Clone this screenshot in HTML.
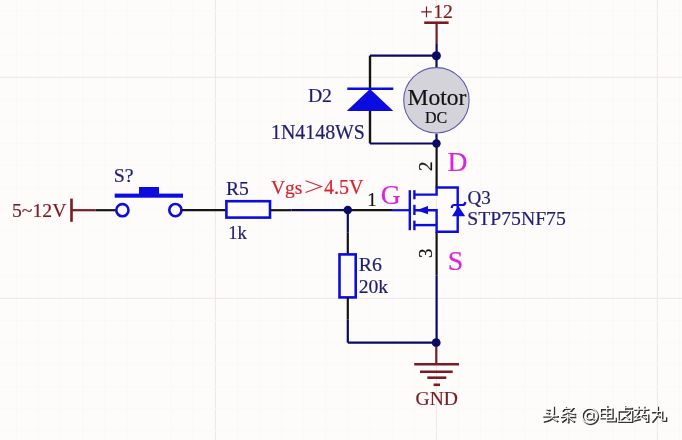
<!DOCTYPE html>
<html><head><meta charset="utf-8"><style>
html,body{margin:0;padding:0;background:#fefcfb;}
svg{display:block;will-change:transform;}
text{stroke-width:0.2px;paint-order:stroke;}
</style></head><body>
<svg width="682" height="440" viewBox="0 0 682 440">
<rect width="682" height="440" fill="#fefcfb"/>
<line x1="16.5" y1="0" x2="16.5" y2="440" stroke="#fbf8f7" stroke-width="1"/>
<line x1="38.6" y1="0" x2="38.6" y2="440" stroke="#fbf8f7" stroke-width="1"/>
<line x1="60.7" y1="0" x2="60.7" y2="440" stroke="#fbf8f7" stroke-width="1"/>
<line x1="82.8" y1="0" x2="82.8" y2="440" stroke="#fbf8f7" stroke-width="1"/>
<line x1="104.9" y1="0" x2="104.9" y2="440" stroke="#fbf8f7" stroke-width="1"/>
<line x1="127.0" y1="0" x2="127.0" y2="440" stroke="#fbf8f7" stroke-width="1"/>
<line x1="149.1" y1="0" x2="149.1" y2="440" stroke="#fbf8f7" stroke-width="1"/>
<line x1="171.2" y1="0" x2="171.2" y2="440" stroke="#fbf8f7" stroke-width="1"/>
<line x1="193.3" y1="0" x2="193.3" y2="440" stroke="#fbf8f7" stroke-width="1"/>
<line x1="215.4" y1="0" x2="215.4" y2="440" stroke="#ede7e6" stroke-width="1"/>
<line x1="237.5" y1="0" x2="237.5" y2="440" stroke="#fbf8f7" stroke-width="1"/>
<line x1="259.6" y1="0" x2="259.6" y2="440" stroke="#fbf8f7" stroke-width="1"/>
<line x1="281.7" y1="0" x2="281.7" y2="440" stroke="#fbf8f7" stroke-width="1"/>
<line x1="303.8" y1="0" x2="303.8" y2="440" stroke="#fbf8f7" stroke-width="1"/>
<line x1="325.9" y1="0" x2="325.9" y2="440" stroke="#fbf8f7" stroke-width="1"/>
<line x1="348.0" y1="0" x2="348.0" y2="440" stroke="#fbf8f7" stroke-width="1"/>
<line x1="370.1" y1="0" x2="370.1" y2="440" stroke="#fbf8f7" stroke-width="1"/>
<line x1="392.2" y1="0" x2="392.2" y2="440" stroke="#fbf8f7" stroke-width="1"/>
<line x1="414.3" y1="0" x2="414.3" y2="440" stroke="#fbf8f7" stroke-width="1"/>
<line x1="436.4" y1="0" x2="436.4" y2="440" stroke="#ede7e6" stroke-width="1"/>
<line x1="458.5" y1="0" x2="458.5" y2="440" stroke="#fbf8f7" stroke-width="1"/>
<line x1="480.6" y1="0" x2="480.6" y2="440" stroke="#fbf8f7" stroke-width="1"/>
<line x1="502.7" y1="0" x2="502.7" y2="440" stroke="#fbf8f7" stroke-width="1"/>
<line x1="524.8" y1="0" x2="524.8" y2="440" stroke="#fbf8f7" stroke-width="1"/>
<line x1="546.9" y1="0" x2="546.9" y2="440" stroke="#fbf8f7" stroke-width="1"/>
<line x1="569.0" y1="0" x2="569.0" y2="440" stroke="#fbf8f7" stroke-width="1"/>
<line x1="591.1" y1="0" x2="591.1" y2="440" stroke="#fbf8f7" stroke-width="1"/>
<line x1="613.2" y1="0" x2="613.2" y2="440" stroke="#fbf8f7" stroke-width="1"/>
<line x1="635.3" y1="0" x2="635.3" y2="440" stroke="#fbf8f7" stroke-width="1"/>
<line x1="657.4" y1="0" x2="657.4" y2="440" stroke="#ede7e6" stroke-width="1"/>
<line x1="679.5" y1="0" x2="679.5" y2="440" stroke="#fbf8f7" stroke-width="1"/>
<line x1="0" y1="11.0" x2="682" y2="11.0" stroke="#fbf8f7" stroke-width="1"/>
<line x1="0" y1="33.1" x2="682" y2="33.1" stroke="#fbf8f7" stroke-width="1"/>
<line x1="0" y1="55.2" x2="682" y2="55.2" stroke="#fbf8f7" stroke-width="1"/>
<line x1="0" y1="77.3" x2="682" y2="77.3" stroke="#ede7e6" stroke-width="1"/>
<line x1="0" y1="99.4" x2="682" y2="99.4" stroke="#fbf8f7" stroke-width="1"/>
<line x1="0" y1="121.5" x2="682" y2="121.5" stroke="#fbf8f7" stroke-width="1"/>
<line x1="0" y1="143.6" x2="682" y2="143.6" stroke="#fbf8f7" stroke-width="1"/>
<line x1="0" y1="165.7" x2="682" y2="165.7" stroke="#fbf8f7" stroke-width="1"/>
<line x1="0" y1="187.8" x2="682" y2="187.8" stroke="#fbf8f7" stroke-width="1"/>
<line x1="0" y1="209.9" x2="682" y2="209.9" stroke="#fbf8f7" stroke-width="1"/>
<line x1="0" y1="232.0" x2="682" y2="232.0" stroke="#fbf8f7" stroke-width="1"/>
<line x1="0" y1="254.1" x2="682" y2="254.1" stroke="#fbf8f7" stroke-width="1"/>
<line x1="0" y1="276.2" x2="682" y2="276.2" stroke="#fbf8f7" stroke-width="1"/>
<line x1="0" y1="298.3" x2="682" y2="298.3" stroke="#ede7e6" stroke-width="1"/>
<line x1="0" y1="320.4" x2="682" y2="320.4" stroke="#fbf8f7" stroke-width="1"/>
<line x1="0" y1="342.5" x2="682" y2="342.5" stroke="#fbf8f7" stroke-width="1"/>
<line x1="0" y1="364.6" x2="682" y2="364.6" stroke="#fbf8f7" stroke-width="1"/>
<line x1="0" y1="386.7" x2="682" y2="386.7" stroke="#fbf8f7" stroke-width="1"/>
<line x1="0" y1="408.8" x2="682" y2="408.8" stroke="#fbf8f7" stroke-width="1"/>
<line x1="0" y1="430.9" x2="682" y2="430.9" stroke="#fbf8f7" stroke-width="1"/>
<line x1="71.5" y1="198.6" x2="71.5" y2="221.8" stroke="#7a1a22" stroke-width="2.6"/>
<line x1="71.5" y1="210.2" x2="95.5" y2="210.2" stroke="#7a1a22" stroke-width="2.2"/>
<line x1="95.5" y1="210.2" x2="116" y2="210.2" stroke="#141414" stroke-width="2.2"/>
<circle cx="122.4" cy="210.2" r="6.1" fill="none" stroke="#0c0ce0" stroke-width="2.6"/>
<circle cx="175.4" cy="210.1" r="6.1" fill="none" stroke="#0c0ce0" stroke-width="2.6"/>
<rect x="114.7" y="193.6" width="68.3" height="4.1" fill="#0c0ce0"/>
<rect x="139" y="187" width="20" height="7" fill="#0c0ce0"/>
<line x1="181.5" y1="210.2" x2="226.4" y2="210.2" stroke="#141414" stroke-width="2.2"/>
<rect x="226.4" y="201.2" width="43.6" height="16.4" fill="none" stroke="#0c0ce0" stroke-width="2.6"/>
<line x1="270" y1="210.2" x2="291.3" y2="210.2" stroke="#141414" stroke-width="2.2"/>
<line x1="291.3" y1="210.2" x2="348" y2="210.2" stroke="#0a0a62" stroke-width="2.2"/>
<line x1="348" y1="210.2" x2="392" y2="210.2" stroke="#141414" stroke-width="2.2"/>
<line x1="392" y1="210.2" x2="409.8" y2="210.2" stroke="#0c0ce0" stroke-width="2.2"/>
<circle cx="347.8" cy="210" r="4.2" fill="#0a0a62"/>
<line x1="347.8" y1="210" x2="347.8" y2="232.7" stroke="#0a0a62" stroke-width="2.2"/>
<line x1="347.8" y1="232.7" x2="347.8" y2="254.4" stroke="#141414" stroke-width="2.2"/>
<rect x="339.5" y="254.4" width="16.2" height="43" fill="none" stroke="#0c0ce0" stroke-width="2.6"/>
<line x1="347.8" y1="297.4" x2="347.8" y2="319.3" stroke="#141414" stroke-width="2.2"/>
<line x1="347.8" y1="319.3" x2="347.8" y2="342.6" stroke="#0a0a62" stroke-width="2.2"/>
<polyline points="347.8,342.6 436.4,342.6" fill="none" stroke="#0a0a62" stroke-width="2.2"/>
<line x1="436.6" y1="231.8" x2="436.6" y2="275.4" stroke="#141414" stroke-width="2.2"/>
<line x1="436.6" y1="275.4" x2="436.6" y2="342.6" stroke="#0a0a62" stroke-width="2.2"/>
<circle cx="436.2" cy="342.7" r="4.4" fill="#0a0a62"/>
<line x1="436.3" y1="346.5" x2="436.3" y2="364.2" stroke="#7a1a22" stroke-width="2.2"/>
<line x1="414.2" y1="364.2" x2="459" y2="364.2" stroke="#7a1a22" stroke-width="2.6"/>
<line x1="420" y1="371.7" x2="452.7" y2="371.7" stroke="#7a1a22" stroke-width="2.6"/>
<line x1="427.3" y1="377.7" x2="446.3" y2="377.7" stroke="#7a1a22" stroke-width="2.6"/>
<line x1="433.6" y1="384.8" x2="440" y2="384.8" stroke="#7a1a22" stroke-width="2.6"/>
<line x1="409.8" y1="190.2" x2="409.8" y2="230.2" stroke="#0c0ce0" stroke-width="2.4"/>
<line x1="414.4" y1="190.2" x2="414.4" y2="199.3" stroke="#0c0ce0" stroke-width="2.4"/>
<line x1="414.4" y1="204.8" x2="414.4" y2="215" stroke="#0c0ce0" stroke-width="2.4"/>
<line x1="414.4" y1="220.6" x2="414.4" y2="230.2" stroke="#0c0ce0" stroke-width="2.4"/>
<polyline points="414.4,194.6 436.6,194.6 436.6,187.5 457.7,187.5 457.7,231.8 436.6,231.8 436.6,210.2 414.4,210.2" fill="none" stroke="#0c0ce0" stroke-width="2.4"/>
<line x1="414.4" y1="225.1" x2="436.6" y2="225.1" stroke="#0c0ce0" stroke-width="2.4"/>
<polygon points="416.4,210.2 428,206 428,214.3" fill="#0c0ce0"/>
<polygon points="458.4,206 452,216.2 465.2,216.2" fill="#0c0ce0"/>
<path d="M451.6,208 Q452,205 454,205 L462.5,205 Q465,205 465.4,202" fill="none" stroke="#0c0ce0" stroke-width="2.2"/>
<line x1="436.6" y1="143.5" x2="436.6" y2="187.5" stroke="#141414" stroke-width="2.2"/>
<circle cx="436.5" cy="143.5" r="4.2" fill="#0a0a62"/>
<line x1="436.5" y1="133.7" x2="436.5" y2="143.5" stroke="#0a0a62" stroke-width="2.2"/>
<line x1="436.5" y1="55.7" x2="436.5" y2="67.3" stroke="#0a0a62" stroke-width="2.2"/>
<circle cx="436.4" cy="100.3" r="32.7" fill="#d3d3d9" stroke="#5c5cab" stroke-width="1.1"/>
<line x1="424.2" y1="22.7" x2="448.6" y2="22.7" stroke="#7a1a22" stroke-width="2.6"/>
<line x1="436.6" y1="22.7" x2="436.6" y2="43.2" stroke="#7a1a22" stroke-width="2.2"/>
<line x1="436.6" y1="43.2" x2="436.6" y2="55.7" stroke="#0a0a62" stroke-width="2.2"/>
<circle cx="436.4" cy="55.7" r="4.5" fill="#0a0a62"/>
<polyline points="436.4,55.6 370,55.6" fill="none" stroke="#0a0a62" stroke-width="2.2"/>
<line x1="370" y1="55.6" x2="370" y2="89" stroke="#141414" stroke-width="2.4"/>
<line x1="370" y1="111" x2="370" y2="143.5" stroke="#141414" stroke-width="2.4"/>
<polyline points="370,143.5 436.4,143.5" fill="none" stroke="#0a0a62" stroke-width="2.2"/>
<line x1="347.3" y1="88.8" x2="393.3" y2="88.8" stroke="#0c0ce0" stroke-width="2.4"/>
<polygon points="370,89 346.7,111 393.3,111" fill="#0c0ce0"/>
<path transform="translate(543.70,407.70) scale(0.96)" d="M4,2.2 L6.5,3 M3.5,5.5 L6,6.5 M11,0 L11,7.5 M0.5,9.6 L15,9.6 M10.5,10.2 Q8,13.5 1,14.8 M11,12.2 L14.5,14.5" fill="none" stroke="#333333" stroke-width="1.88" stroke-linecap="square"/>
<path transform="translate(561.00,407.70) scale(0.96)" d="M5.5,0.3 L2.5,3.5 M4.5,1.8 L13,1.3 Q10,5.5 2.5,7.8 M7,4.2 Q10.5,6.5 15,7.3 M1,10 L15,10 M8,8 L8,15.5 M6.5,11.5 L2,14.8 M9.5,11.5 L14,14.8" fill="none" stroke="#333333" stroke-width="1.88" stroke-linecap="square"/>
<path transform="translate(600.70,407.20) scale(0.96)" d="M0.7,2.4 L12.7,2.4 L12.7,11.9 L0.7,11.9 Z M0.7,7.2 L12.7,7.2 M7.3,-0.3 L7.3,15 L16,15 L16,12" fill="none" stroke="#333333" stroke-width="1.88" stroke-linecap="square"/>
<path transform="translate(617.90,407.20) scale(0.96)" d="M7.9,0 L7.9,3.6 M7.9,1.6 L15,1.6 M1.2,4.8 L15.3,4.8 L15.3,15.6 M1.2,4.8 L1.2,15.6 L15.3,15.6 M13,6 L4,13.5 M9,10 L12,13" fill="none" stroke="#333333" stroke-width="1.88" stroke-linecap="square"/>
<path transform="translate(634.20,407.20) scale(0.96)" d="M1,3 L15,3 M5,0.5 L5,5.5 M11,0.5 L11,5.5 M4.5,6.5 L1.5,10 L5,10 L1.5,14 L6,13 M10.5,6.5 L8.5,10 M9.5,8.5 L15,8.5 L15,15.5 L13,15.5 M10.5,11 L12.5,12.5" fill="none" stroke="#333333" stroke-width="1.88" stroke-linecap="square"/>
<path transform="translate(652.00,407.20) scale(0.96)" d="M1,5.5 L11,5.5 L11,14 Q11,14.5 15,14.5 L15,11.5 M6.5,0.5 L6.5,6 Q6,11 1,15.5 M5.5,8.5 L8.5,10.5" fill="none" stroke="#333333" stroke-width="1.88" stroke-linecap="square"/>
<circle cx="590.7" cy="416.7" r="7.6" fill="none" stroke="#333333" stroke-width="1.8"/>
<circle cx="590.2" cy="416.7" r="3.2" fill="none" stroke="#333333" stroke-width="1.8"/>
<path d="M593.7,413.2 L593.7,419.2 Q594.2,420.7 596.2,419.7" fill="none" stroke="#333333" stroke-width="1.8"/>
<path transform="translate(542.70,406.70) scale(0.96)" d="M4,2.2 L6.5,3 M3.5,5.5 L6,6.5 M11,0 L11,7.5 M0.5,9.6 L15,9.6 M10.5,10.2 Q8,13.5 1,14.8 M11,12.2 L14.5,14.5" fill="none" stroke="#ffffff" stroke-width="1.15" stroke-linecap="square"/>
<path transform="translate(560.00,406.70) scale(0.96)" d="M5.5,0.3 L2.5,3.5 M4.5,1.8 L13,1.3 Q10,5.5 2.5,7.8 M7,4.2 Q10.5,6.5 15,7.3 M1,10 L15,10 M8,8 L8,15.5 M6.5,11.5 L2,14.8 M9.5,11.5 L14,14.8" fill="none" stroke="#ffffff" stroke-width="1.15" stroke-linecap="square"/>
<path transform="translate(599.70,406.20) scale(0.96)" d="M0.7,2.4 L12.7,2.4 L12.7,11.9 L0.7,11.9 Z M0.7,7.2 L12.7,7.2 M7.3,-0.3 L7.3,15 L16,15 L16,12" fill="none" stroke="#ffffff" stroke-width="1.15" stroke-linecap="square"/>
<path transform="translate(616.90,406.20) scale(0.96)" d="M7.9,0 L7.9,3.6 M7.9,1.6 L15,1.6 M1.2,4.8 L15.3,4.8 L15.3,15.6 M1.2,4.8 L1.2,15.6 L15.3,15.6 M13,6 L4,13.5 M9,10 L12,13" fill="none" stroke="#ffffff" stroke-width="1.15" stroke-linecap="square"/>
<path transform="translate(633.20,406.20) scale(0.96)" d="M1,3 L15,3 M5,0.5 L5,5.5 M11,0.5 L11,5.5 M4.5,6.5 L1.5,10 L5,10 L1.5,14 L6,13 M10.5,6.5 L8.5,10 M9.5,8.5 L15,8.5 L15,15.5 L13,15.5 M10.5,11 L12.5,12.5" fill="none" stroke="#ffffff" stroke-width="1.15" stroke-linecap="square"/>
<path transform="translate(651.00,406.20) scale(0.96)" d="M1,5.5 L11,5.5 L11,14 Q11,14.5 15,14.5 L15,11.5 M6.5,0.5 L6.5,6 Q6,11 1,15.5 M5.5,8.5 L8.5,10.5" fill="none" stroke="#ffffff" stroke-width="1.15" stroke-linecap="square"/>
<circle cx="589.7" cy="415.7" r="7.6" fill="none" stroke="#ffffff" stroke-width="1.1"/>
<circle cx="589.2" cy="415.7" r="3.2" fill="none" stroke="#ffffff" stroke-width="1.1"/>
<path d="M592.7,412.2 L592.7,418.2 Q593.2,419.7 595.2,418.7" fill="none" stroke="#ffffff" stroke-width="1.1"/>

<text x="12" y="216.7" font-family="Liberation Serif, serif" font-size="19.7" fill="#7a1a22" stroke="#7a1a22">5~12V</text>
<text x="113.8" y="181.5" font-family="Liberation Serif, serif" font-size="19.8" fill="#1e1e70" stroke="#1e1e70">S?</text>
<text x="226" y="194.8" font-family="Liberation Serif, serif" font-size="19.6" fill="#1e1e70" stroke="#1e1e70">R5</text>
<text x="228.3" y="238.9" font-family="Liberation Serif, serif" font-size="18.6" fill="#1e1e70" stroke="#1e1e70">1k</text>
<text x="271" y="194.3" font-family="Liberation Serif, serif" font-size="19.5" fill="#d8222e" stroke="#d8222e">Vgs</text>
<polyline points="305.5,180.8 321.5,186.6 305.5,192.4" fill="none" stroke="#d8222e" stroke-width="1.05"/>
<text x="324" y="194.4" font-family="Liberation Serif, serif" font-size="20" fill="#d8222e" stroke="#d8222e">4.5V</text>
<text x="367.2" y="206" font-family="Liberation Serif, serif" font-size="19" fill="#141414" stroke="#141414">1</text>
<text x="380.8" y="204.1" font-family="Liberation Serif, serif" font-size="27.6" fill="#d924d9" stroke="#d924d9">G</text>
<text x="447.5" y="170.8" font-family="Liberation Serif, serif" font-size="27.6" fill="#d924d9" stroke="#d924d9">D</text>
<text x="447.8" y="270.3" font-family="Liberation Serif, serif" font-size="27.8" fill="#d924d9" stroke="#d924d9">S</text>
<text transform="translate(432.2,171) rotate(-90)" font-family="Liberation Serif, serif" font-size="19" fill="#141414" stroke="#141414">2</text>
<text transform="translate(432.2,258) rotate(-90)" font-family="Liberation Serif, serif" font-size="19" fill="#141414" stroke="#141414">3</text>
<text x="467.5" y="204" font-family="Liberation Serif, serif" font-size="19" fill="#1e1e70" stroke="#1e1e70">Q3</text>
<text x="467.3" y="225.2" font-family="Liberation Serif, serif" font-size="19.7" fill="#1e1e70" stroke="#1e1e70">STP75NF75</text>
<text x="358.7" y="271" font-family="Liberation Serif, serif" font-size="19.8" fill="#1e1e70" stroke="#1e1e70">R6</text>
<text x="358.7" y="293.3" font-family="Liberation Serif, serif" font-size="19.6" fill="#1e1e70" stroke="#1e1e70">20k</text>
<text x="415.5" y="404.6" font-family="Liberation Serif, serif" font-size="19.6" fill="#7a1a22" stroke="#7a1a22">GND</text>
<text x="307.9" y="101.9" font-family="Liberation Serif, serif" font-size="19.7" fill="#1e1e70" stroke="#1e1e70">D2</text>
<text x="271" y="139.4" font-family="Liberation Serif, serif" font-size="19.9" fill="#1e1e70" stroke="#1e1e70">1N4148WS</text>
<path d="M421.2,11.9 L431.8,11.9 M426.5,6.6 L426.5,17.2" stroke="#7a1a22" stroke-width="1.15" fill="none"/>
<text x="433.2" y="17.8" font-family="Liberation Serif, serif" font-size="19.6" fill="#7a1a22" stroke="#7a1a22">12</text>
<text x="407.6" y="105.1" font-family="Liberation Serif, serif" font-size="23.5" fill="#111" stroke="#111">Motor</text>
<text x="425" y="122.5" font-family="Liberation Serif, serif" font-size="16" fill="#111" stroke="#111">DC</text>

</svg>
</body></html>
